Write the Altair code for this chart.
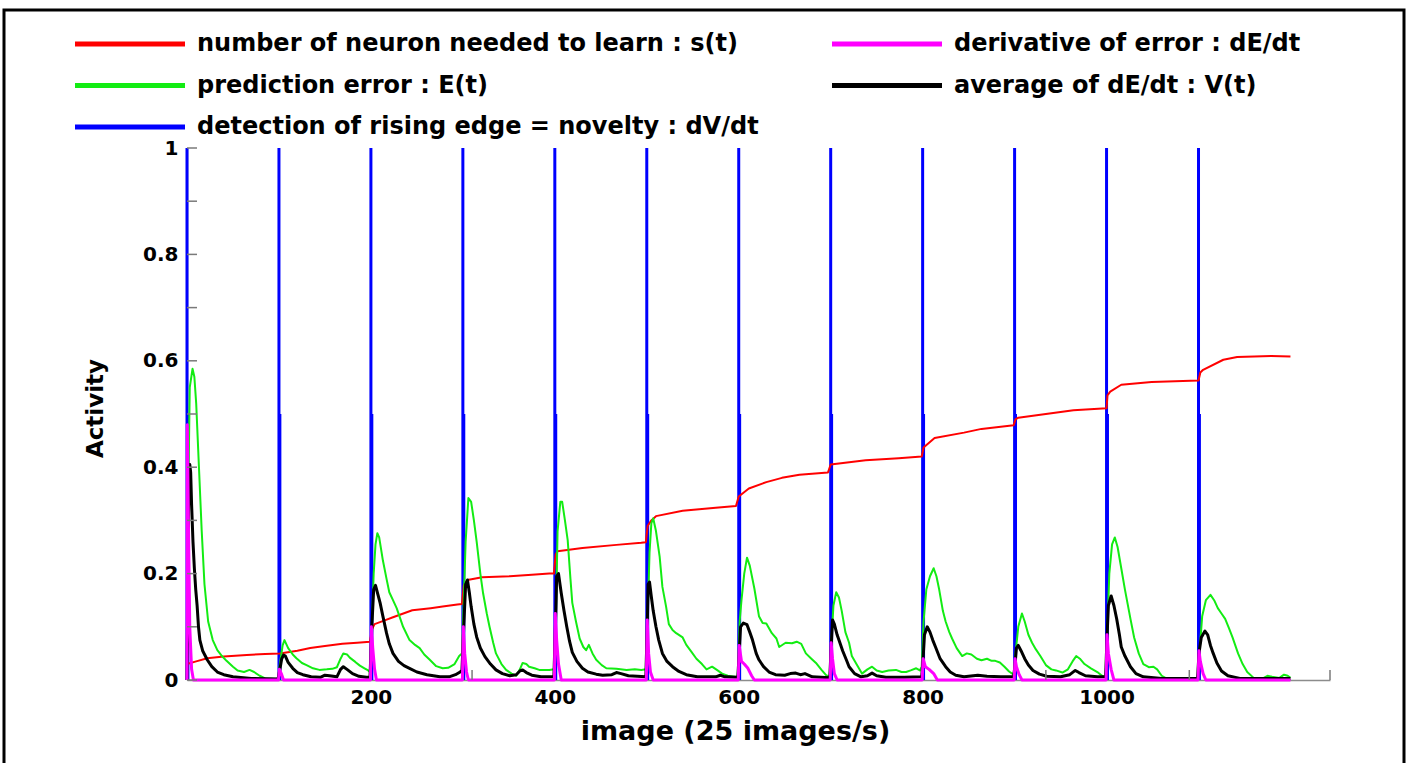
import altair as alt
import pandas as pd

# ---------------- data ----------------
s_t = [(0, 0.030), (10, 0.035), (22, 0.041), (40, 0.044), (65, 0.047), (85, 0.049), (101, 0.050),
       (120, 0.055), (134, 0.060), (150, 0.064), (169, 0.068), (185, 0.070), (199, 0.072),
       (201, 0.095), (204, 0.105), (215, 0.112), (224, 0.118), (245, 0.131), (265, 0.135),
       (278, 0.138), (294, 0.142), (299, 0.143), (301, 0.178), (305, 0.188), (321, 0.193),
       (351, 0.195), (375, 0.198), (394, 0.200), (399, 0.200), (401, 0.236), (403, 0.242),
       (430, 0.248), (467, 0.254), (494, 0.258), (499, 0.259), (501, 0.290), (505, 0.300),
       (510, 0.308), (539, 0.318), (575, 0.324), (597, 0.327), (600, 0.345), (611, 0.360),
       (630, 0.372), (647, 0.380), (666, 0.386), (697, 0.390), (700, 0.405), (738, 0.413),
       (774, 0.417), (799, 0.420), (801, 0.437), (813, 0.455), (845, 0.465), (864, 0.472),
       (899, 0.479), (901, 0.490), (904, 0.493), (938, 0.501), (964, 0.507), (1000, 0.511),
       (1001, 0.535), (1004, 0.542), (1016, 0.555), (1049, 0.560), (1100, 0.563), (1102, 0.578),
       (1105, 0.583), (1127, 0.602), (1142, 0.607), (1179, 0.609), (1200, 0.608)]

E_t = [(0, 0.0), (1, 0.30), (3, 0.55), (6, 0.585), (8, 0.57), (10, 0.52), (13, 0.40), (16, 0.28),
       (19, 0.18), (23, 0.11), (28, 0.075), (33, 0.056), (38, 0.045), (43, 0.036), (50, 0.025),
       (55, 0.018), (62, 0.015), (68, 0.019), (73, 0.015), (79, 0.008), (85, 0.003), (99, 0.002),
       (101, 0.03), (104, 0.065), (106, 0.075), (110, 0.06), (115, 0.048), (119, 0.041), (125, 0.032),
       (130, 0.028), (137, 0.022), (144, 0.019), (152, 0.02), (158, 0.021), (163, 0.024), (167, 0.04),
       (170, 0.05), (174, 0.048), (177, 0.042), (183, 0.034), (188, 0.027), (193, 0.022), (197, 0.018),
       (199, 0.015),
       (201, 0.10), (203, 0.20), (205, 0.255), (207, 0.276), (209, 0.268), (213, 0.225), (217, 0.19),
       (220, 0.165), (224, 0.15), (228, 0.135), (231, 0.12), (235, 0.10), (242, 0.075), (248, 0.066),
       (253, 0.06), (258, 0.048), (264, 0.038), (271, 0.026), (278, 0.022), (284, 0.023), (291, 0.03),
       (296, 0.045), (299, 0.05),
       (301, 0.15), (303, 0.26), (306, 0.342), (309, 0.335), (312, 0.30), (315, 0.26), (319, 0.20),
       (322, 0.163), (326, 0.125), (329, 0.10), (333, 0.07), (336, 0.05), (342, 0.03), (347, 0.019),
       (353, 0.012), (358, 0.008), (362, 0.02), (365, 0.032), (369, 0.03), (372, 0.025), (378, 0.022),
       (383, 0.019), (394, 0.019), (399, 0.02),
       (401, 0.10), (403, 0.28), (406, 0.335), (408, 0.335), (411, 0.30), (414, 0.263), (417, 0.19),
       (419, 0.145), (423, 0.11), (427, 0.078), (431, 0.062), (434, 0.056), (437, 0.066), (441, 0.05),
       (445, 0.038), (451, 0.028), (456, 0.022), (467, 0.021), (478, 0.019), (487, 0.02), (494, 0.019),
       (499, 0.02),
       (501, 0.12), (503, 0.24), (505, 0.295), (507, 0.304), (510, 0.28), (514, 0.232), (517, 0.175),
       (521, 0.138), (524, 0.105), (528, 0.094), (532, 0.088), (539, 0.08), (543, 0.066), (549, 0.052),
       (554, 0.04), (560, 0.03), (565, 0.02), (571, 0.025), (577, 0.018), (582, 0.012), (588, 0.008),
       (595, 0.006), (599, 0.005),
       (601, 0.11), (603, 0.15), (606, 0.20), (609, 0.23), (612, 0.215), (617, 0.172), (622, 0.12),
       (626, 0.107), (630, 0.106), (636, 0.088), (641, 0.078), (644, 0.062), (651, 0.07), (658, 0.069),
       (663, 0.072), (668, 0.068), (673, 0.05), (679, 0.04), (684, 0.032), (690, 0.019), (695, 0.009),
       (699, 0.006),
       (701, 0.08), (703, 0.14), (706, 0.165), (709, 0.155), (712, 0.13), (716, 0.09), (720, 0.07),
       (723, 0.045), (728, 0.03), (734, 0.012), (740, 0.02), (745, 0.025), (750, 0.018), (756, 0.015),
       (763, 0.018), (771, 0.019), (777, 0.015), (782, 0.015), (787, 0.018), (793, 0.022), (797, 0.018),
       (799, 0.025),
       (801, 0.11), (804, 0.17), (808, 0.195), (812, 0.21), (815, 0.195), (818, 0.17), (822, 0.13),
       (825, 0.11), (829, 0.09), (832, 0.078), (837, 0.06), (843, 0.045), (848, 0.05), (853, 0.048),
       (859, 0.04), (864, 0.037), (870, 0.04), (875, 0.036), (879, 0.036), (884, 0.033), (889, 0.025),
       (894, 0.016), (899, 0.01),
       (901, 0.05), (904, 0.10), (908, 0.125), (911, 0.11), (915, 0.085), (919, 0.07), (923, 0.058),
       (928, 0.045), (934, 0.028), (940, 0.02), (945, 0.018), (952, 0.014), (958, 0.02), (963, 0.035),
       (967, 0.045), (971, 0.04), (976, 0.03), (983, 0.022), (990, 0.015), (995, 0.008), (999, 0.005),
       (1001, 0.10), (1003, 0.20), (1006, 0.255), (1009, 0.268), (1012, 0.25), (1016, 0.21),
       (1020, 0.17), (1026, 0.115), (1030, 0.08), (1035, 0.05), (1040, 0.03), (1046, 0.024),
       (1051, 0.025), (1055, 0.02), (1060, 0.008), (1066, 0.002), (1080, 0.001), (1099, 0.001),
       (1101, 0.05), (1104, 0.12), (1108, 0.15), (1113, 0.16), (1117, 0.15), (1121, 0.135),
       (1125, 0.125), (1129, 0.115), (1133, 0.098), (1137, 0.08), (1143, 0.05), (1148, 0.03),
       (1153, 0.015), (1160, 0.004), (1170, 0.003), (1175, 0.008), (1180, 0.006), (1188, 0.004),
       (1193, 0.01), (1197, 0.008), (1200, 0.004)]

V_t = [(0, 0.0), (1, 0.20), (2, 0.38), (3, 0.405), (4, 0.39), (5, 0.33), (6.5, 0.26), (8, 0.21),
       (9.5, 0.17), (11, 0.14), (12.5, 0.10), (14, 0.075), (17, 0.055), (22, 0.038), (27, 0.025),
       (33, 0.015), (40, 0.01), (50, 0.006), (70, 0.003), (99, 0.002),
       (101, 0.02), (103, 0.04), (105, 0.047), (107, 0.045), (110, 0.033), (115, 0.022), (120, 0.014),
       (126, 0.01), (135, 0.006), (145, 0.005), (150, 0.009), (155, 0.008), (163, 0.006), (167, 0.02),
       (170, 0.025), (174, 0.02), (180, 0.012), (187, 0.007), (195, 0.005), (199, 0.005),
       (201, 0.10), (203, 0.17), (205, 0.178), (208, 0.158), (210, 0.145), (213, 0.12), (217, 0.088),
       (220, 0.068), (224, 0.05), (230, 0.035), (236, 0.027), (242, 0.022), (250, 0.015), (261, 0.01),
       (275, 0.006), (285, 0.006), (292, 0.01), (297, 0.015), (299, 0.018),
       (301, 0.10), (303, 0.18), (305, 0.188), (307, 0.165), (309, 0.138), (312, 0.105), (315, 0.081),
       (319, 0.06), (324, 0.044), (330, 0.03), (336, 0.019), (343, 0.012), (351, 0.008), (358, 0.01),
       (362, 0.017), (365, 0.019), (369, 0.014), (375, 0.009), (385, 0.006), (399, 0.006),
       (401, 0.12), (402, 0.195), (404, 0.20), (407, 0.163), (410, 0.13), (413, 0.10), (416, 0.073),
       (419, 0.052), (424, 0.035), (430, 0.022), (436, 0.015), (445, 0.011), (452, 0.009), (462, 0.01),
       (467, 0.014), (472, 0.012), (480, 0.008), (499, 0.006),
       (500.5, 0.10), (501.5, 0.18), (503, 0.184), (505, 0.156), (507, 0.13), (510, 0.10), (513, 0.075),
       (517, 0.05), (522, 0.035), (528, 0.025), (535, 0.016), (543, 0.01), (555, 0.006), (575, 0.006),
       (580, 0.009), (585, 0.006), (599, 0.005),
       (600.5, 0.05), (602, 0.10), (605, 0.107), (609, 0.104), (612, 0.09), (615, 0.075), (619, 0.05),
       (622, 0.038), (627, 0.025), (633, 0.015), (640, 0.01), (650, 0.009), (656, 0.012), (662, 0.013),
       (667, 0.01), (672, 0.012), (680, 0.006), (699, 0.004),
       (700.5, 0.06), (702, 0.113), (704, 0.105), (707, 0.085), (709, 0.075), (713, 0.055), (717, 0.038),
       (720, 0.025), (726, 0.012), (733, 0.006), (740, 0.008), (745, 0.013), (750, 0.008), (760, 0.005),
       (780, 0.005), (799, 0.006),
       (800.5, 0.04), (802, 0.085), (805, 0.10), (808, 0.09), (811, 0.075), (814, 0.062), (819, 0.04),
       (825, 0.025), (830, 0.015), (836, 0.009), (845, 0.006), (860, 0.009), (870, 0.007), (885, 0.006),
       (899, 0.006),
       (900.5, 0.03), (902, 0.06), (904, 0.065), (907, 0.055), (911, 0.04), (915, 0.028), (920, 0.018),
       (927, 0.011), (935, 0.007), (950, 0.006), (960, 0.01), (966, 0.018), (970, 0.014), (977, 0.008),
       (990, 0.006), (999, 0.006),
       (1000.5, 0.08), (1002, 0.14), (1005, 0.158), (1008, 0.14), (1011, 0.115), (1014, 0.085),
       (1016, 0.062), (1020, 0.045), (1026, 0.025), (1032, 0.012), (1040, 0.006), (1060, 0.003),
       (1099, 0.003),
       (1100.5, 0.05), (1103, 0.08), (1107, 0.092), (1110, 0.085), (1113, 0.065), (1116, 0.05),
       (1120, 0.032), (1125, 0.017), (1132, 0.008), (1145, 0.003), (1200, 0.003)]

dE_dt = [(0, 0.0), (0.3, 0.48), (1.5, 0.30), (3, 0.10), (5, 0.02), (7, 0.0),
         (99.5, 0.0), (100.5, 0.02), (103, 0.01), (105, 0.0),
         (199.5, 0.0), (200.5, 0.10), (202, 0.06), (204, 0.02), (206, 0.0),
         (299.5, 0.0), (300.5, 0.10), (302, 0.05), (304, 0.015), (306, 0.0),
         (399.5, 0.0), (400.5, 0.125), (402, 0.075), (404, 0.03), (407, 0.0),
         (499.5, 0.0), (500.5, 0.113), (502, 0.05), (504, 0.015), (507, 0.0),
         (599.5, 0.0), (600.5, 0.065), (603, 0.035), (606, 0.03), (610, 0.022), (614, 0.008), (617, 0.0),
         (699.5, 0.0), (700.5, 0.07), (702, 0.04), (704, 0.012), (707, 0.0),
         (799.5, 0.0), (800.5, 0.04), (803, 0.025), (807, 0.02), (812, 0.012), (816, 0.0),
         (899.5, 0.0), (900.5, 0.04), (902, 0.025), (905, 0.01), (908, 0.0),
         (999.5, 0.0), (1000.5, 0.085), (1002, 0.05), (1005, 0.02), (1008, 0.0),
         (1099.5, 0.0), (1100.5, 0.055), (1102, 0.035), (1105, 0.012), (1108, 0.0),
         (1200, 0.0)]

novelty_x = [0, 100, 200, 300, 400, 500, 600, 700, 800, 900, 1000, 1100]
novelty_top = [1.0, 1.0, 1.0, 1.0, 1.0, 1.0, 1.0, 1.0, 1.0, 1.0, 1.0, 1.0]
novelty_tail_x = [1, 101, 201, 301, 401, 501, 601, 701, 801, 901, 1001, 1101]
novelty_tail_top = [0.5, 0.5, 0.5, 0.5, 0.5, 0.5, 0.5, 0.5, 0.5, 0.5, 0.5, 0.5]

# legend order (filled column by column: left column first)
S_NAME = "number of neuron needed to learn : s(t)"
E_NAME = "prediction error : E(t)"
N_NAME = "detection of rising edge = novelty : dV/dt"
D_NAME = "derivative of error : dE/dt"
V_NAME = "average of dE/dt : V(t)"
series_names = [S_NAME, E_NAME, N_NAME, D_NAME, V_NAME]
series_colors = ["#ff0000", "#13ec13", "#0000ff", "#ff00ff", "#000000"]

x_tick_labels = [200, 400, 600, 800, 1000]
y_tick_labels = [0, 0.2, 0.4, 0.6, 0.8, 1]
y_inner_ticks = [0, 0.1, 0.2, 0.3, 0.4, 0.5, 0.6, 0.7, 0.8, 0.9, 1.0]
x_inner_ticks = [310, 934, 1090, 1243]

# ---------------- layout ----------------
W, H = 1143, 532
FONT = "DejaVu Sans"


def pairs_df(pairs, name):
    return pd.DataFrame({"x": [p[0] for p in pairs], "y": [p[1] for p in pairs], "series": name})


xscale = alt.Scale(domain=[0, 1243], nice=False, zero=False)
yscale = alt.Scale(domain=[0, 1], nice=False)

xaxis = alt.Axis(values=x_tick_labels, format="d", title="image (25 images/s)", grid=False, ticks=False,
                 domainColor="#8c8c8c", domainWidth=1.5,
                 labelFont=FONT, labelFontWeight="bold", labelFontSize=20, labelColor="black",
                 labelPadding=7, titleFont=FONT, titleFontWeight="bold", titleFontSize=27,
                 titleColor="black", titleX=548, titleY=51, titleBaseline="middle")
yaxis = alt.Axis(values=y_tick_labels, format="~g", title="Activity", grid=False, ticks=False,
                 domainColor="#8c8c8c", domainWidth=1.5,
                 labelFont=FONT, labelFontWeight="bold", labelFontSize=20, labelColor="black",
                 labelPadding=9, titleFont=FONT, titleFontWeight="bold", titleFontSize=23,
                 titleColor="black", titleX=-92, titleY=260, titleAngle=270,
                 titleBaseline="middle", titleAlign="center")

legend = alt.Legend(title=None, orient="none", legendX=-114.5, legendY=-116, columns=2,
                    columnPadding=70, rowPadding=17.5, clipHeight=24,
                    symbolType="stroke", symbolSize=12100, symbolStrokeWidth=5, symbolOpacity=1,
                    labelFont=FONT, labelFontWeight="bold", labelFontSize=24, labelColor="black",
                    labelOffset=9.5, labelLimit=1000, padding=0)

color = alt.Color("series:N", scale=alt.Scale(domain=series_names, range=series_colors), legend=legend)
X = alt.X("x:Q", scale=xscale, axis=xaxis)
Y = alt.Y("y:Q", scale=yscale, axis=yaxis)

blue_full = pd.DataFrame({"x": novelty_x, "y": [0.0] * len(novelty_x), "y2": novelty_top,
                          "series": N_NAME})
blue_tail = pd.DataFrame({"x": novelty_tail_x, "y": [0.0] * len(novelty_tail_x), "y2": novelty_tail_top,
                          "series": N_NAME})

rule_full = alt.Chart(blue_full).mark_rule(strokeWidth=3).encode(x=X, y=Y, y2="y2:Q", color=color)
rule_tail = alt.Chart(blue_tail).mark_rule(strokeWidth=3).encode(x=X, y=Y, y2="y2:Q", color=color)


def line(pairs, name, width):
    return alt.Chart(pairs_df(pairs, name)).mark_line(strokeWidth=width, strokeJoin="round").encode(
        x=X, y=Y, color=color, order=alt.Order("x:Q"))


red = line(s_t, S_NAME, 2)
green = line(E_t, E_NAME, 2)
black = line(V_t, V_NAME, 3)
magenta = line(dE_dt, D_NAME, 3)

ytick_layer = alt.Chart(pd.DataFrame({"y": y_inner_ticks})).mark_rule(color="#7a7a7a", strokeWidth=1.5).encode(
    y=Y, x=alt.value(0), x2=alt.value(10))
xtick_layer = alt.Chart(pd.DataFrame({"x": x_inner_ticks})).mark_rule(color="#7a7a7a", strokeWidth=1.5).encode(
    x=X, y=alt.value(H), y2=alt.value(H - 10))

frame = alt.Chart(pd.DataFrame({"k": [0]})).mark_rect(fill="transparent", stroke="black", strokeWidth=3).encode(
    x=alt.value(-183), x2=alt.value(1217), y=alt.value(-138), y2=alt.value(700))

chart = alt.layer(rule_full, rule_tail, red, green, black, magenta, ytick_layer, xtick_layer, frame).properties(
    width=W, height=H,
    autosize=alt.AutoSizeParams(type="none"),
    padding={"left": 187, "top": 148, "right": 81, "bottom": 83},
    background="white",
).configure_view(strokeWidth=0)

chart.save("out.html", embed_options={"renderer": "svg", "actions": False})
